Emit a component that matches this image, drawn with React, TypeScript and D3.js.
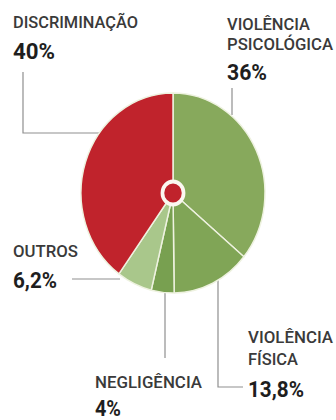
import React from "react";
import * as d3 from "d3";

const categories = ["VIOLÊNCIA PSICOLÓGICA", "VIOLÊNCIA FÍSICA", "NEGLIGÊNCIA", "OUTROS", "DISCRIMINAÇÃO"];
const values = [36, 13.8, 4, 6.2, 40];
const valueLabels = ["36%", "13,8%", "4%", "6,2%", "40%"];
const colors = ["#87a95c", "#80a556", "#78a050", "#a9c78b", "#c0232c"];

const W = 336;
const H = 420;
const cx = 173;
const cy = 193;
const R = 100;
const sx = 0.92;

const labelFont = "Roboto, 'Noto Sans', sans-serif";

export default function App() {
  const pie = d3.pie<number>().sort(null).value((d) => d)(values);
  const arc = d3.arc<d3.PieArcDatum<number>>().innerRadius(0).outerRadius(R);

  const labelLines = [
    [
      { t: "VIOLÊNCIA", x: 227, y: 30, w: 83 },
      { t: "PSICOLÓGICA", x: 227, y: 50, w: 106 },
      { t: valueLabels[0], x: 227, y: 80, w: 40, bold: true },
    ],
    [
      { t: "VIOLÊNCIA", x: 248, y: 343, w: 85 },
      { t: "FÍSICA", x: 248, y: 365, w: 50 },
      { t: valueLabels[1], x: 248, y: 397, w: 56, bold: true },
    ],
    [
      { t: categories[2], x: 95, y: 388, w: 107 },
      { t: valueLabels[2], x: 95, y: 416, w: 26, bold: true },
    ],
    [
      { t: categories[3], x: 13, y: 257, w: 65 },
      { t: valueLabels[3], x: 13, y: 288, w: 44, bold: true },
    ],
    [
      { t: categories[4], x: 13, y: 28, w: 125 },
      { t: valueLabels[4], x: 13, y: 59, w: 42, bold: true },
    ],
  ];

  const leaders = [
    "M232,88 L232,115",
    "M218,280 L218,387 L243,387",
    "M165,293 L165,358",
    "M72,279 L120,279",
    "M23,72 L23,133 L99,133",
  ];

  return (
    <svg width={W} height={H} style={{ position: "absolute", left: 0, top: 0, background: "#fff" }}>
      <rect width={W} height={H} fill="#fff" />
      <g stroke="#8f8f8f" strokeWidth={1.2} fill="none">
        {leaders.map((d, i) => (
          <path key={i} d={d} />
        ))}
      </g>
      <g transform={`translate(${cx},${cy}) scale(${sx},1)`}>
        {pie.map((p, i) => (
          <path key={i} d={arc(p) || ""} fill={colors[i]} stroke="#eef2e0" strokeWidth={1.6} strokeLinejoin="round" />
        ))}
        <circle r={11.5} fill="#c0232c" stroke="#fbf7f0" strokeWidth={4} />
      </g>
      {labelLines.map((ls, i) => (
        <g key={i}>
          {ls.map((l, j) => (
            <text
              key={j}
              x={l.x}
              y={l.y}
              fontFamily={labelFont}
              fontSize={l.bold ? 22 : 17}
              fontWeight={l.bold ? 700 : 500}
              fill={l.bold ? "#1e1e1e" : "#3a3a3a"}
              textLength={l.w}
              lengthAdjust="spacingAndGlyphs"
            >
              {l.t}
            </text>
          ))}
        </g>
      ))}
    </svg>
  );
}
